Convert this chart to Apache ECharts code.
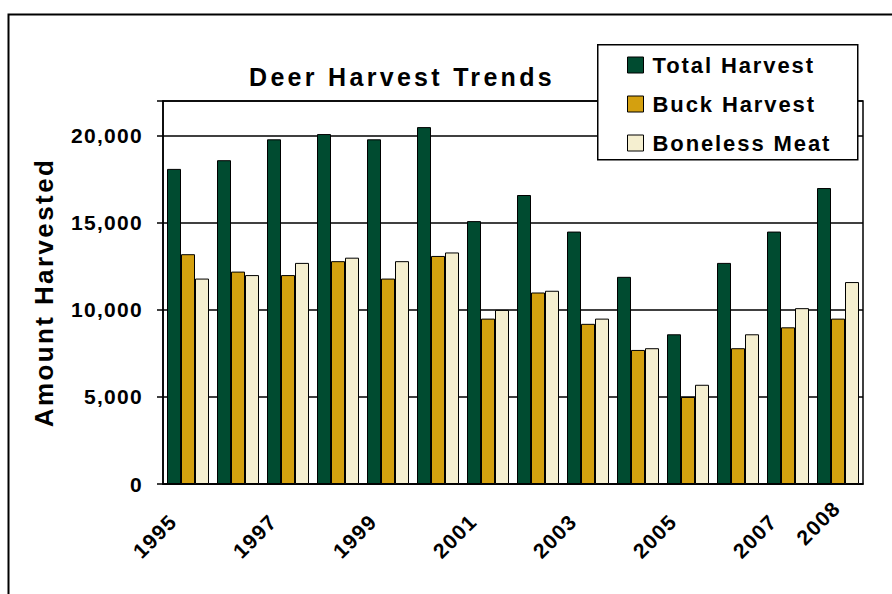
<!DOCTYPE html>
<html>
<head>
<meta charset="utf-8">
<script src="https://cdn.jsdelivr.net/npm/echarts@6/dist/echarts.min.js"></script>
<style>
  html, body { margin: 0; padding: 0; background: #fff; }
  #chart { width: 892px; height: 594px; }
  /* spaced-out lettering like the original */
  #chart text { letter-spacing: 1.3px; }
  #chart text[style*="25px"] { letter-spacing: 3.3px; }
  #chart text[style*="26px"] { letter-spacing: 2.4px; }
  #chart text[style*="22px"] { letter-spacing: 1.9px; }
</style>
</head>
<body>
<div id="chart"></div>
<script>
var years = ['1995', '1996', '1997', '1998', '1999', '2000', '2001',
  '2002', '2003', '2004', '2005', '2006', '2007', '2008'];
var totalHarvest = [18100, 18600, 19800, 20100, 19800, 20500, 15100,
  16600, 14500, 11900, 8600, 12700, 14500, 17000];
var buckHarvest = [13200, 12200, 12000, 12800, 11800, 13100, 9500,
  11000, 9200, 7700, 5000, 7800, 9000, 9500];
var bonelessMeat = [11800, 12000, 12700, 13000, 12800, 13300, 10000,
  11100, 9500, 7800, 5700, 8600, 10100, 11600];
// which year labels show on the x axis
var shownYears = ['1995', '1997', '1999', '2001', '2003', '2005', '2007', '2008'];

var font = "'Liberation Sans', Arial, sans-serif";
var labelStyle = { fontFamily: font, fontSize: 21, fontWeight: 'bold', color: '#000' };

var myChart = echarts.init(document.getElementById('chart'), null, { renderer: 'svg' });

myChart.setOption({
  animation: false,
  title: {
    text: 'Deer Harvest Trends',
    left: 397,
    top: 59,
    textAlign: 'center',
    textStyle: { fontFamily: font, fontSize: 25, fontWeight: 'bold', color: '#000' }
  },
  legend: {
    orient: 'vertical',
    left: 622,
    top: 49,
    itemWidth: 16,
    itemHeight: 16,
    itemGap: 17,
    icon: 'rect',
    z: 20,
    itemStyle: { borderColor: '#000', borderWidth: 1 },
    textStyle: {
      fontFamily: font, fontSize: 22, fontWeight: 'bold', color: '#000',
      lineHeight: 16, padding: [4, 0, 0, 4]
    },
    data: ['Total Harvest', 'Buck Harvest', 'Boneless Meat']
  },
  graphic: [
    {
      type: 'rect',
      left: 6, top: 12,
      shape: { width: 900, height: 600 },
      style: { fill: 'none', stroke: '#000', lineWidth: 2 },
      z: 0
    },
    {
      type: 'rect',
      left: 597, top: 44,
      shape: { width: 260, height: 115 },
      style: { fill: '#fff', stroke: '#000', lineWidth: 1.5 },
      z: 10
    }
  ],
  grid: {
    left: 163,
    right: 29,
    top: 101,
    bottom: 110,
    show: true,
    borderColor: '#000',
    borderWidth: 1.5
  },
  xAxis: {
    type: 'category',
    data: years,
    axisLine: { lineStyle: { color: '#000', width: 1.5 } },
    axisTick: { interval: 0, length: 6, lineStyle: { color: '#000', width: 1.5 } },
    axisLabel: {
      interval: function (i, v) { return shownYears.indexOf(v) >= 0; },
      rotate: 45,
      margin: 19,
      formatter: function (v) {
        return v === '2008' ? '{b|' + v + '}' : '{a|' + v + '}';
      },
      rich: {
        a: Object.assign({ padding: [0, 21, 0, 0] }, labelStyle),
        b: Object.assign({ padding: [0, 2, 0, 0] }, labelStyle)
      }
    }
  },
  yAxis: {
    type: 'value',
    min: 0,
    max: 22000,
    interval: 5000,
    name: 'Amount Harvested',
    nameLocation: 'middle',
    nameRotate: 90,
    nameGap: 106,
    nameTextStyle: { fontFamily: font, fontSize: 26, fontWeight: 'bold', color: '#000' },
    axisLine: { show: true, lineStyle: { color: '#000', width: 1.5 } },
    axisTick: { show: true, length: 6, lineStyle: { color: '#000', width: 1.5 } },
    splitLine: { lineStyle: { color: '#000', width: 1.5 } },
    axisLabel: Object.assign({
      margin: 20,
      formatter: function (v) {
        if (v % 5000 !== 0) return '';
        return v.toLocaleString('en-US');
      }
    }, labelStyle)
  },
  series: [
    {
      name: 'Total Harvest',
      type: 'bar',
      data: totalHarvest,
      barCategoryGap: '16%',
      barGap: '0%',
      itemStyle: { color: '#004B30', borderColor: '#000', borderWidth: 1 }
    },
    {
      name: 'Buck Harvest',
      type: 'bar',
      data: buckHarvest,
      itemStyle: { color: '#D4A00F', borderColor: '#000', borderWidth: 1 }
    },
    {
      name: 'Boneless Meat',
      type: 'bar',
      data: bonelessMeat,
      itemStyle: { color: '#F5EFD0', borderColor: '#000', borderWidth: 1 }
    }
  ]
});
</script>
</body>
</html>
